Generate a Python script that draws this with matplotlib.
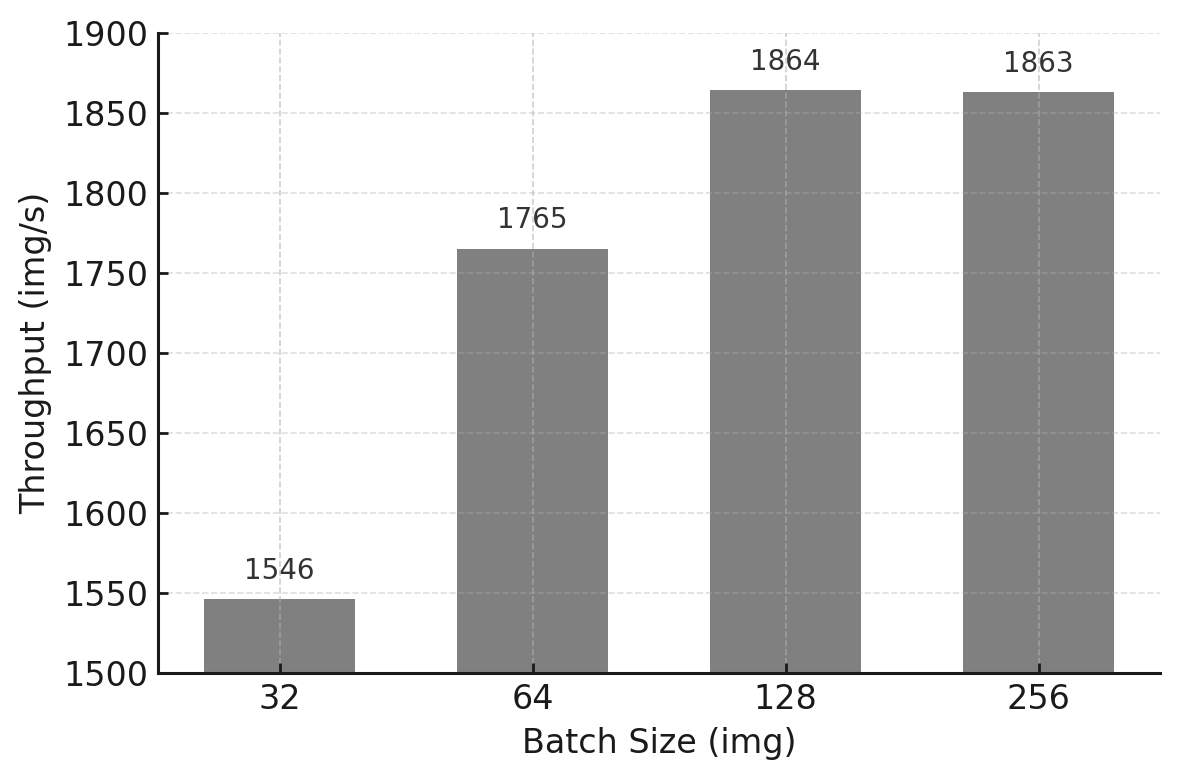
import matplotlib.pyplot as plt

batch_sizes = ["32", "64", "128", "256"]
throughput = [1546, 1765, 1864, 1863]


def main():
    fig = plt.figure(figsize=(5.9, 3.9), dpi=200)
    ax = fig.add_axes([0.134, 0.137, 0.849, 0.821])

    x = range(len(batch_sizes))
    ax.bar(x, throughput, width=0.6, color="#808080", zorder=1)
    for i, v in zip(x, throughput):
        ax.text(i, v + 9, str(v), ha="center", va="bottom",
                fontsize=10, color="#333333", zorder=2)

    ax.set_xticks(list(x))
    ax.set_xticklabels(batch_sizes)
    ax.set_ylim(1500, 1900)
    ax.set_xlim(-0.48, 3.48)
    ax.set_yticks(range(1500, 1901, 50))
    ax.tick_params(labelsize=12, colors="#1a1a1a", direction="in", length=3.5, width=1)
    ax.set_xlabel("Batch Size (img)", fontsize=12, color="#1a1a1a", labelpad=4)
    ax.set_ylabel("Throughput (img/s)", fontsize=12, color="#1a1a1a", labelpad=4)

    # grid sits on top of the bars, faint
    ax.yaxis.grid(True, linestyle="--", linewidth=0.6, color="#b0b0b0", alpha=0.4, zorder=3)
    ax.xaxis.grid(True, linestyle="--", linewidth=0.6, color="#b0b0b0", alpha=0.6, zorder=3)
    ax.set_axisbelow(False)
    for s in ["top", "right"]:
        ax.spines[s].set_visible(False)
    for s in ["left", "bottom"]:
        ax.spines[s].set_color("#1a1a1a")
        ax.spines[s].set_linewidth(1.1)
        ax.spines[s].set_zorder(4)

    plt.savefig("out.png", dpi=200)


if __name__ == "__main__":
    main()
